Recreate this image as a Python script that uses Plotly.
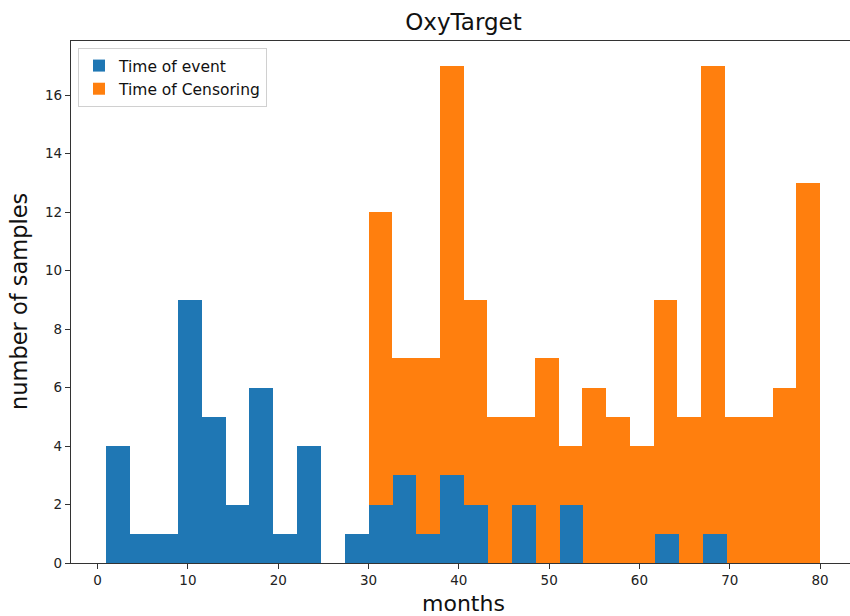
import numpy as np
import plotly.graph_objects as go

# Histogram data
event_range = (0.95, 69.66)
event_counts = [4, 1, 1, 9, 5, 2, 6, 1, 4, 0, 1, 2, 3, 1, 3, 2, 0, 2, 0, 2, 0, 0, 0, 1, 0, 1]
censor_range = (30.0, 80.0)
censor_counts = [12, 7, 7, 17, 9, 5, 5, 7, 4, 6, 5, 4, 9, 5, 17, 5, 5, 6, 13]
x_ticks = [0, 10, 20, 30, 40, 50, 60, 70, 80]
y_ticks = [0, 2, 4, 6, 8, 10, 12, 14, 16]

def bins(rng, counts):
    edges = np.linspace(rng[0], rng[1], len(counts) + 1)
    return (edges[:-1] + edges[1:]) / 2, np.diff(edges)

ec, ew = bins(event_range, event_counts)
cc, cw = bins(censor_range, censor_counts)

FONT = "DejaVu Sans"
fig = go.Figure()
fig.add_trace(go.Bar(x=cc, y=censor_counts, width=cw, name="Time of Censoring",
                     marker=dict(color="#ff7f0e", line=dict(width=0)), hoverinfo="skip"))
fig.add_trace(go.Bar(x=ec, y=event_counts, width=ew, name="Time of event",
                     marker=dict(color="#1f77b4", line=dict(width=0)), hoverinfo="skip"))

fig.update_layout(
    width=850, height=616,
    margin=dict(l=71, r=0, t=41, b=53),
    paper_bgcolor="white", plot_bgcolor="white",
    barmode="overlay", bargap=0,
    font=dict(family=FONT, size=13, color="#222"),
    title=dict(text="OxyTarget", x=(463.5 / 850), xanchor="center",
               y=1 - 22 / 616, yanchor="middle", font=dict(size=23, color="#111")),
    showlegend=True,
    legend=dict(traceorder="reversed", x=7 / 779, y=1 - 7 / 522, xanchor="left", yanchor="top",
                bgcolor="rgba(255,255,255,0.8)", bordercolor="#d0d0d0", borderwidth=1,
                font=dict(size=15.5, color="#111")),
    xaxis=dict(range=[-2.95, -2.95 + 779 / 9.03], tickvals=x_ticks, showgrid=False, zeroline=False,
               showline=True, linecolor="#333", linewidth=1.2, mirror=True,
               ticks="outside", ticklen=5, tickcolor="#333", tickfont=dict(size=13.5)),
    yaxis=dict(range=[0, 17.85], tickvals=y_ticks, showgrid=False, zeroline=False,
               showline=True, linecolor="#333", linewidth=1.2, mirror=False,
               ticks="outside", ticklen=5, tickcolor="#333", tickfont=dict(size=13.5)),
    annotations=[
        dict(text="months", xref="paper", yref="paper", x=(463.5 - 71) / 779, y=0, yshift=-40,
             xanchor="center", yanchor="middle", showarrow=False, font=dict(size=22, color="#111")),
        dict(text="number of samples", xref="paper", yref="paper", x=0, xshift=-52, y=0.5,
             textangle=-90, xanchor="center", yanchor="middle", showarrow=False,
             font=dict(size=22.5, color="#111")),
    ],
)

fig.write_html("out.html")
